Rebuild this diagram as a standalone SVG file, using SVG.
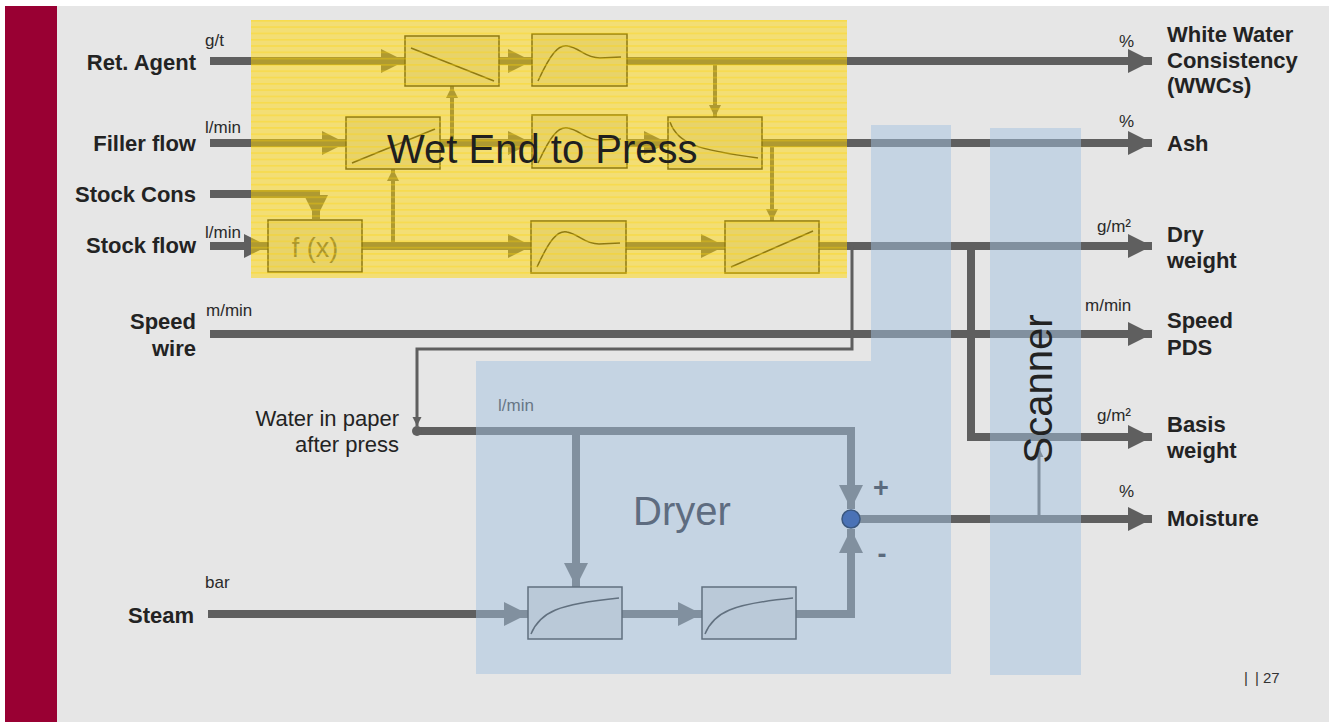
<svg xmlns="http://www.w3.org/2000/svg" width="1329" height="722" viewBox="0 0 1329 722">
<style>
text{font-family:"Liberation Sans",Arial,sans-serif}
.lbl{font-size:22px;font-weight:bold;fill:#232323}
.lblr{font-size:22px;fill:#232323}
.unit{font-size:17px;fill:#2a2a2a}
.thick{fill:none;stroke:#5f5f5f;stroke-width:8;marker-end:url(#ah)}
.thin{fill:none;stroke:#5f5f5f;stroke-width:4;marker-end:url(#ah)}
.hair{fill:none;stroke:#5f5f5f;stroke-width:3;marker-end:url(#ah)}
.box{fill:#d0d0d0;stroke:#1e1e1e;stroke-width:1.5}
.crv{fill:none;stroke:#1e1e1e;stroke-width:1.5}
</style>
<defs>
<marker id="ah" markerUnits="strokeWidth" markerWidth="3" markerHeight="3" refX="3" refY="1.5" orient="auto" overflow="visible">
<path d="M0,0 L3,1.5 L0,3 Z" fill="#5f5f5f"/>
</marker>
<pattern id="stripes" width="20" height="6.3" patternUnits="userSpaceOnUse" y="20">
<rect width="20" height="1.6" fill="#ffd400" opacity="0.35"/>
</pattern>
</defs>
<rect width="1329" height="722" fill="#ffffff"/>
<rect x="5" y="6" width="1324" height="716" fill="#e6e6e6"/>
<rect x="5" y="6" width="52" height="716" fill="#990033"/>

<g id="connectors">
<path class="thick" d="M210,61 H405"/>
<path class="thick" d="M499,61 H532"/>
<path class="thick" d="M627,61 H1152"/>
<path class="thick" d="M210,143 H346"/>
<path class="thick" d="M440,143 H532"/>
<path class="thick" d="M627,143 H668"/>
<path class="thick" d="M762,143 H1152"/>
<path class="thick" d="M210,194 H316 V219"/>
<path class="thick" d="M210,246 H268"/>
<path class="thick" d="M362,246 H532"/>
<path class="thick" d="M626,246 H725"/>
<path class="thick" d="M819,246 H1152"/>
<path class="thick" d="M971,246 V437 H1152"/>
<path class="thick" d="M210,334 H1152"/>
<path class="thick" d="M417,431 H851 V509"/>
<circle cx="417" cy="431" r="5" fill="#5f5f5f"/>
<path class="thick" d="M576,431 V587"/>
<path class="thick" d="M208,614 H528"/>
<path class="thick" d="M622,614 H702"/>
<path class="thick" d="M796,614 H851 V529"/>
<path class="thick" d="M860,519 H1152"/>
<path class="thin" d="M452,143 V86"/>
<path class="thin" d="M393,246 V169"/>
<path class="thin" d="M715,61 V117"/>
<path class="thin" d="M772,143 V221"/>
<path class="hair" d="M852,246 V349 H417 V426"/>
<path class="hair" d="M1039,515 V448"/>
</g>

<g id="node-ret-gain">
<rect class="box" x="405" y="36" width="94" height="50"/>
<path class="crv" d="M411,48 L494,81"/>
</g>
<g id="node-ret-dyn">
<rect class="box" x="532" y="34" width="95" height="52"/>
<path class="crv" d="M538,81 C550,55 558,44 568,46 C580,48 585,58 600,58 L621,57"/>
</g>
<g id="node-filler-gain">
<rect class="box" x="346" y="117" width="94" height="52"/>
<path class="crv" d="M352,163 L435,129"/>
</g>
<g id="node-filler-dyn">
<rect class="box" x="532" y="115" width="95" height="53"/>
<path class="crv" d="M538,163 C550,137 558,126 568,128 C580,130 585,140 600,140 L621,139"/>
</g>
<g id="node-ash-decay">
<rect class="box" x="668" y="117" width="94" height="52"/>
<path class="crv" d="M670,122 C678,145 700,150 758,158"/>
</g>
<g id="node-fx">
<rect class="box" x="268" y="220" width="94" height="52"/>
<text x="315" y="257" text-anchor="middle" style="font-size:27px;fill:#555">f (x)</text>
</g>
<g id="node-stock-dyn">
<rect class="box" x="531" y="221" width="95" height="52"/>
<path class="crv" d="M537,267 C549,241 557,230 567,232 C579,234 584,244 599,244 L620,243"/>
</g>
<g id="node-dryweight-gain">
<rect class="box" x="725" y="221" width="94" height="52"/>
<path class="crv" d="M731,267 L813,231"/>
</g>
<g id="node-dryer-1">
<rect class="box" x="528" y="587" width="94" height="52"/>
<path class="crv" d="M531,634 C540,612 558,604 619,598"/>
</g>
<g id="node-dryer-2">
<rect class="box" x="702" y="587" width="94" height="52"/>
<path class="crv" d="M705,634 C714,612 732,604 793,598"/>
</g>
<text class="unit" x="498" y="411" style="fill:#2a2a2a">l/min</text>

<g id="zone-wet-end">
<rect x="251" y="20" width="596" height="258" fill="#ffd604" opacity="0.5"/>
<rect x="251" y="20" width="596" height="258" fill="url(#stripes)"/>
</g>
<g id="zone-dryer">
<path d="M871,125 H951 V674 H476 V361 H871 Z" fill="#a4c2e0" opacity="0.5"/>
</g>
<g id="zone-scanner">
<rect x="990" y="128" width="91" height="547" fill="#a4c2e0" opacity="0.5"/>
</g>

<text x="387" y="163" style="font-size:40px;fill:#1f1f1f">Wet End to Press</text>
<text x="633" y="525" style="font-size:40px;fill:#5e6c80">Dryer</text>
<text transform="translate(1052,389) rotate(-90)" text-anchor="middle" style="font-size:40px;fill:#222">Scanner</text>

<g id="node-sum">
<circle cx="851" cy="519" r="9" fill="#4a72b6" stroke="#3a577f" stroke-width="1.5"/>
<text x="881" y="497" text-anchor="middle" style="font-size:27px;font-weight:bold;fill:#5b6a7d">+</text>
<text x="882" y="563" text-anchor="middle" style="font-size:27px;font-weight:bold;fill:#5b6a7d">-</text>
</g>

<g id="inputs">
<text class="lbl" x="196" y="70" text-anchor="end">Ret. Agent</text>
<text class="unit" x="205" y="46">g/t</text>
<text class="lbl" x="196" y="151" text-anchor="end">Filler flow</text>
<text class="unit" x="205" y="133">l/min</text>
<text class="lbl" x="196" y="202" text-anchor="end">Stock Cons</text>
<text class="lbl" x="196" y="253" text-anchor="end">Stock flow</text>
<text class="unit" x="205" y="238">l/min</text>
<text class="lbl" x="196" y="329" text-anchor="end">Speed</text>
<text class="lbl" x="196" y="356" text-anchor="end">wire</text>
<text class="unit" x="206" y="316">m/min</text>
<text class="lblr" x="399" y="426" text-anchor="end">Water in paper</text>
<text class="lblr" x="399" y="452" text-anchor="end">after press</text>
<text class="lbl" x="194" y="623" text-anchor="end">Steam</text>
<text class="unit" x="205" y="588">bar</text>
</g>

<g id="outputs">
<text class="unit" x="1119" y="47">%</text>
<text class="lbl" x="1167" y="42">White Water</text>
<text class="lbl" x="1167" y="68">Consistency</text>
<text class="lbl" x="1167" y="93">(WWCs)</text>
<text class="unit" x="1119" y="127">%</text>
<text class="lbl" x="1167" y="151">Ash</text>
<text class="unit" x="1097" y="232">g/m²</text>
<text class="lbl" x="1167" y="242">Dry</text>
<text class="lbl" x="1167" y="268">weight</text>
<text class="unit" x="1085" y="311">m/min</text>
<text class="lbl" x="1167" y="328">Speed</text>
<text class="lbl" x="1167" y="355">PDS</text>
<text class="unit" x="1097" y="421">g/m²</text>
<text class="lbl" x="1167" y="432">Basis</text>
<text class="lbl" x="1167" y="458">weight</text>
<text class="unit" x="1119" y="497">%</text>
<text class="lbl" x="1167" y="526">Moisture</text>
</g>

<text style="font-size:15px;fill:#333" y="683"><tspan x="1244">|</tspan><tspan x="1255">|</tspan><tspan x="1263">27</tspan></text>
</svg>
